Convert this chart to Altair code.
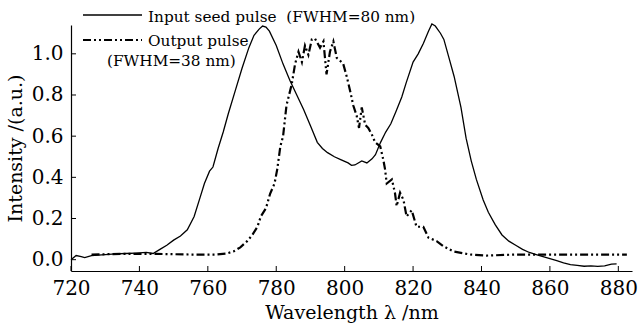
import altair as alt
import pandas as pd

# Input seed pulse (solid)
seed_x = [720, 721.5, 723, 724, 726, 728, 730, 733, 736, 739, 742, 744, 746, 748, 750, 752, 754, 756,
          757.7, 759, 760.5, 761.5, 763, 764.5, 766, 768, 770, 772, 773.5, 775, 776, 777, 778, 780, 782,
          784, 786, 788, 790, 792, 793.5, 795, 797, 799, 801, 802, 803, 805, 806.5, 808, 809, 810.5, 812,
          813.5, 815, 816.7, 818, 820, 821.5, 823, 824.5, 825.5, 826.5, 828, 829, 830.5, 832, 834, 835.5,
          837, 838.5, 840.5, 842, 844, 846, 848, 850, 852, 854, 856, 858, 860, 862, 864, 866, 868, 870,
          872, 874, 876, 878, 879.5]
seed_y = [0.0, 0.02, 0.015, 0.01, 0.02, 0.022, 0.025, 0.028, 0.03, 0.032, 0.035, 0.03, 0.05, 0.07, 0.095,
          0.115, 0.145, 0.21, 0.30, 0.37, 0.43, 0.45, 0.54, 0.62, 0.71, 0.82, 0.93, 1.03, 1.09, 1.12, 1.135,
          1.13, 1.11, 1.04, 0.95, 0.87, 0.80, 0.73, 0.65, 0.57, 0.54, 0.52, 0.50, 0.485, 0.47, 0.458, 0.46,
          0.48, 0.47, 0.49, 0.51, 0.57, 0.62, 0.66, 0.72, 0.79, 0.86, 0.96, 1.00, 1.05, 1.11, 1.145, 1.135,
          1.10, 1.07, 0.98, 0.89, 0.74, 0.59, 0.48, 0.39, 0.29, 0.23, 0.17, 0.12, 0.09, 0.07, 0.05, 0.035,
          0.025, 0.015, 0.005, -0.005, -0.015, -0.024, -0.028, -0.032, -0.03, -0.033, -0.03, -0.022, -0.02]

# Output pulse (dash-dot-dot)
out_x = [726, 735, 745, 755, 762, 765.5, 767.5, 769.5, 771.5, 773, 774.5, 775.5, 777, 778.2, 779.5, 780.3,
         781.2, 782, 783, 784.5, 785.5, 786.5, 787.5, 788.4, 789.4, 790.4, 791.3, 792.8, 793.8, 794.7,
         795.7, 796.7, 797.7, 798.5, 799.6, 800.6, 801.6, 802.5, 803.5, 804.2, 805, 806, 806.9, 807.9,
         808.9, 810.4, 811.3, 811.8, 812.3, 813.8, 814.7, 815.2, 816.2, 817.2, 818.1, 819.6, 821, 823,
         824.5, 826.9, 828.9, 831.8, 836.7, 841.5, 850, 860, 870, 882.5]
out_y = [0.025, 0.028, 0.028, 0.025, 0.025, 0.03, 0.04, 0.06, 0.09, 0.12, 0.16, 0.21, 0.25, 0.32, 0.37,
         0.44, 0.55, 0.60, 0.75, 0.85, 0.95, 1.01, 0.96, 1.04, 0.995, 1.07, 1.075, 1.03, 1.06, 0.90, 1.01,
         1.06, 0.98, 0.97, 0.95, 0.89, 0.82, 0.75, 0.70, 0.64, 0.74, 0.655, 0.64, 0.61, 0.57, 0.55, 0.485,
         0.44, 0.37, 0.39, 0.325, 0.26, 0.325, 0.29, 0.21, 0.24, 0.16, 0.16, 0.107, 0.09, 0.065, 0.04,
         0.025, 0.02, 0.025, 0.025, 0.025, 0.025]

x_ticks = [720, 740, 760, 780, 800, 820, 840, 860, 880]
y_ticks = [0.0, 0.2, 0.4, 0.6, 0.8, 1.0]

legend_seed = "Input seed pulse\u00a0\u00a0(FWHM=80 nm)"
legend_out = "Output pulse"
legend_out2 = "(FWHM=38 nm)"

FONT = "DejaVu Serif"
W, H = 561, 246

seed_df = pd.DataFrame({"x": seed_x, "y": seed_y})
out_df = pd.DataFrame({"x": out_x, "y": out_y})
xt_df = pd.DataFrame({"t": x_ticks})
yt_df = pd.DataFrame({"t": y_ticks})

xscale = alt.Scale(domain=[720, 884], nice=False, zero=False)
yscale = alt.Scale(domain=[-0.055, 1.14], nice=False, zero=False)

xaxis = alt.Axis(values=x_ticks, format="d", title="Wavelength λ /nm", tickSize=0,
                 labelPadding=7, labelFlush=False, grid=False, domainColor="black", domainWidth=1.2,
                 labelFont=FONT, labelFontSize=20, labelColor="black",
                 titleFont=FONT, titleFontSize=19, titleFontWeight="normal", titleColor="black",
                 titlePadding=5)
yaxis = alt.Axis(values=y_ticks, format=".1f", title="Intensity /(a.u.)", tickSize=0,
                 labelPadding=8, labelFlush=False, grid=False, domainColor="black", domainWidth=1.2,
                 labelFont=FONT, labelFontSize=20, labelColor="black",
                 titleFont=FONT, titleFontSize=19, titleFontWeight="normal", titleColor="black",
                 titlePadding=6)

seed = alt.Chart(seed_df).mark_line(color="black", strokeWidth=1.3).encode(
    x=alt.X("x:Q", scale=xscale, axis=xaxis),
    y=alt.Y("y:Q", scale=yscale, axis=yaxis),
)
out = alt.Chart(out_df).mark_line(color="black", strokeWidth=2.2, strokeDash=[8, 3, 2, 3, 2, 3]).encode(
    x=alt.X("x:Q", scale=xscale),
    y=alt.Y("y:Q", scale=yscale),
)

xt = alt.Chart(xt_df).mark_rule(color="black", strokeWidth=1).encode(
    x=alt.X("t:Q", scale=xscale), y=alt.value(H), y2=alt.value(H - 5))
yt = alt.Chart(yt_df).mark_rule(color="black", strokeWidth=1).encode(
    y=alt.Y("t:Q", scale=yscale), x=alt.value(0), x2=alt.value(5))

leg_line1 = alt.Chart(pd.DataFrame({"a": [0]})).mark_rule(color="black", strokeWidth=1.3).encode(
    x=alt.value(12), x2=alt.value(71), y=alt.value(-10))
leg_line2 = alt.Chart(pd.DataFrame({"a": [0]})).mark_rule(
    color="black", strokeWidth=2.2, strokeDash=[8, 3, 2, 3, 2, 3]).encode(
    x=alt.value(12), x2=alt.value(71), y=alt.value(15))
leg_t1 = alt.Chart(pd.DataFrame({"s": [legend_seed]})).mark_text(
    font=FONT, fontSize=15.3, align="left", baseline="alphabetic", color="black").encode(
    text="s:N", x=alt.value(77), y=alt.value(-3))
leg_t2 = alt.Chart(pd.DataFrame({"s": [legend_out]})).mark_text(
    font=FONT, fontSize=15.3, align="left", baseline="alphabetic", color="black").encode(
    text="s:N", x=alt.value(77), y=alt.value(21))
leg_t3 = alt.Chart(pd.DataFrame({"s": [legend_out2]})).mark_text(
    font=FONT, fontSize=15.3, align="left", baseline="alphabetic", color="black").encode(
    text="s:N", x=alt.value(36), y=alt.value(41))

chart = alt.layer(seed, out, xt, yt, leg_line1, leg_line2, leg_t1, leg_t2, leg_t3).properties(
    width=W, height=H,
    autosize=alt.AutoSizeParams(type="none"),
    padding={"left": 71, "top": 25, "right": 6, "bottom": 52},
    background="white",
).configure_view(stroke=None)

chart.save("out.html", embed_options={"renderer": "svg", "actions": False})
